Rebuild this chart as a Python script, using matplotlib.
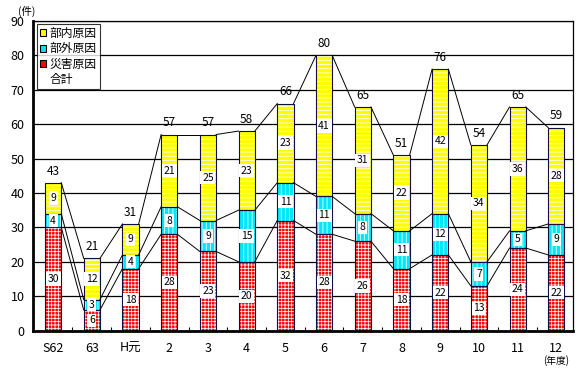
import matplotlib
matplotlib.use("Agg")
import matplotlib.pyplot as plt
from matplotlib.patches import Patch
import numpy as np

plt.rcParams['font.family'] = ['Noto Sans CJK JP', 'DejaVu Sans']
plt.rcParams['hatch.linewidth'] = 0.55

categories = ["S62", "63", "H元", "2", "3", "4", "5", "6", "7", "8", "9", "10", "11", "12"]
saigai = [30, 6, 18, 28, 23, 20, 32, 28, 26, 18, 22, 13, 24, 22]     # 災害原因
bugai = [4, 3, 4, 8, 9, 15, 11, 11, 8, 11, 12, 7, 5, 9]              # 部外原因
bunai = [9, 12, 9, 21, 25, 23, 23, 41, 31, 22, 42, 34, 36, 28]       # 部内原因
series_names = ["部内原因", "部外原因", "災害原因", "合計"]

fig = plt.figure(figsize=(5.8, 3.71), dpi=100)
ax = fig.add_axes([33/580, 1-330.6/371, 540/580, 309.6/371])

x = np.arange(len(categories))
w = 0.42
s = np.array(saigai); g = np.array(bugai); n = np.array(bunai)
tot = s + g + n

ax.set_axisbelow(True)
ax.yaxis.grid(True, color='black', linewidth=0.9)

red = '#ff0000'; cyan = '#00e8f8'; yellow = '#ffff00'
layers = [(s, np.zeros_like(s), red, '+++++'),
          (g, s, cyan, '||||'),
          (n, s + g, yellow, '----')]
for vals, bot, col, hat in layers:
    ax.bar(x, vals, w, bottom=bot, color=col, edgecolor='white', hatch=hat, linewidth=0, zorder=2)
    ax.bar(x, vals, w, bottom=bot, fill=False, edgecolor='#101040', linewidth=0.8, zorder=3)
    for xi, v, b in zip(x, vals, bot):
        ax.text(xi, b + v/2, str(v), ha='center', va='center', fontsize=7.5, zorder=5,
                bbox=dict(facecolor='white', edgecolor='none', pad=1.2))

# series lines
for level in [s, s + g, tot]:
    for i in range(len(x) - 1):
        ax.plot([x[i] + w/2, x[i+1] - w/2], [level[i], level[i+1]], color='black', linewidth=0.7, zorder=4)

for xi, t in zip(x, tot):
    ax.text(xi, t + 1.5, str(t), ha='center', va='bottom', fontsize=8.5, zorder=5)

ax.set_xlim(-0.52, 13.43)
ax.set_ylim(0, 90)
ax.set_yticks(range(0, 91, 10))
ax.set_xticks(x)
ax.set_xticklabels(categories)
ax.set_xticks(x[:-1] + 0.5, minor=True)
ax.tick_params(axis='x', which='major', length=0, pad=8, labelsize=9)
ax.tick_params(axis='x', which='minor', length=3, direction='in', width=0.8)
ax.tick_params(axis='y', length=0, pad=6, labelsize=9)

for sp in ['left', 'bottom']:
    ax.spines[sp].set_linewidth(2)
for sp in ['top', 'right']:
    ax.spines[sp].set_linewidth(0.9)

fig.text(18/580, 1-11/371, "(件)", fontsize=7.5, ha='left', va='center')
fig.text(556/580, 1-361/371, "(年度)", fontsize=7, ha='center', va='center')

handles = [Patch(facecolor=yellow, edgecolor='black', linewidth=0.8),
           Patch(facecolor=cyan, edgecolor='black', linewidth=0.8),
           Patch(facecolor=red, edgecolor='black', linewidth=0.8),
           Patch(facecolor='none', edgecolor='none')]
leg = ax.legend(handles, series_names, loc='upper left', bbox_to_anchor=(0.007, 0.99),
                fontsize=8.5, frameon=True, fancybox=False, edgecolor='black',
                handlelength=0.55, handleheight=0.55, handletextpad=0.3, borderpad=0.25,
                labelspacing=0.2, borderaxespad=0)
leg.get_frame().set_linewidth(0.8)
leg.set_zorder(10)

fig.savefig("out.png", dpi=100)
